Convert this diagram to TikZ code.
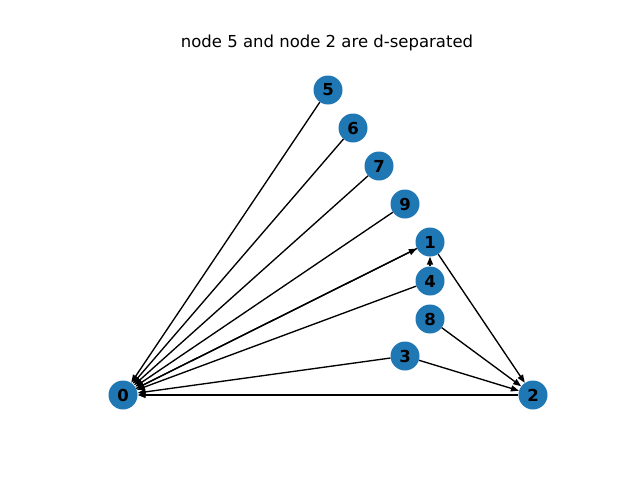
\documentclass[tikz,border=0pt]{standalone}
\usepackage{fontspec}
\setmainfont{DejaVu Sans}
\usetikzlibrary{arrows.meta}
\definecolor{nodeblue}{HTML}{1F77B4}
\begin{document}
\begin{tikzpicture}[x=1pt, y=-1pt,
		vertex/.style={circle, fill=nodeblue, minimum size=29pt, inner sep=0pt, font=\fontsize{16.5}{18}\selectfont\bfseries},
		edge/.style={line width=1.35pt, -{Triangle[length=8pt,width=6pt]}}]
			%%%%% START %%%%%
			
			\useasboundingbox (0, 0) rectangle (640, 480);
			
			\node[font=\fontsize{16.5}{18}\selectfont] (title) at (327, 43) {node 5 and node 2 are d-separated};
			
			\node[vertex] (n5) at (328, 90) {5};
			\node[vertex] (n6) at (353, 128) {6};
			\node[vertex] (n7) at (379, 166) {7};
			\node[vertex] (n9) at (405, 204) {9};
			\node[vertex] (n1) at (430, 242) {1};
			\node[vertex] (n4) at (430, 281) {4};
			\node[vertex] (n8) at (430, 319) {8};
			\node[vertex] (n3) at (405, 356) {3};
			\node[vertex] (n0) at (123, 395) {0};
			\node[vertex] (n2) at (533, 395) {2};
			
			\draw[edge] (n5) -- (n0);
			\draw[edge] (n6) -- (n0);
			\draw[edge] (n7) -- (n0);
			\draw[edge] (n9) -- (n0);
			\draw[edge] (n1) -- (n0);
			\draw[edge] (n0) -- (n1);
			\draw[edge] (n4) -- (n0);
			\draw[edge] (n4) -- (n1);
			\draw[edge] (n3) -- (n0);
			\draw[edge] (n2) -- (n0);
			\draw[edge] (n1) -- (n2);
			\draw[edge] (n8) -- (n2);
			\draw[edge] (n3) -- (n2);
			
			%%%%% END %%%%%
		\end{tikzpicture}
\end{document}
